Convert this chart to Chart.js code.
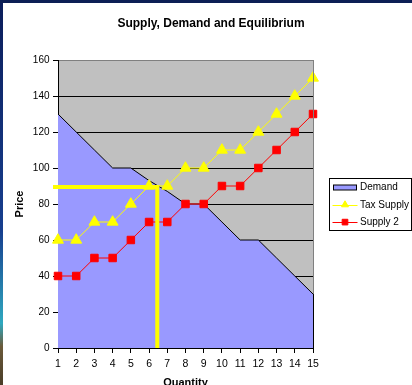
<!DOCTYPE html>
<html>
<head>
<meta charset="utf-8">
<script src="https://cdn.jsdelivr.net/npm/chart.js@4.4.0/dist/chart.umd.min.js"></script>
<style>
  html, body { margin: 0; padding: 0; overflow: hidden; background: #fff; }
  #wrap { position: relative; width: 412px; height: 385px; overflow: hidden; }
  #chart { position: absolute; left: 0; top: 0; }
  .edge-left { position: absolute; left: 0; top: 0; width: 3px; height: 385px;
    background: linear-gradient(#0b1d5a 0%, #173f8f 60%, #2fa8bf 84%, #6b5a3a 90%, #4a3d28 100%); }
  .edge-top { position: absolute; left: 0; top: 0; width: 412px; height: 3px; background: #0c1f55; }
</style>
</head>
<body>
<div id="wrap">
  <canvas id="chart" width="412" height="400"></canvas>
  <div class="edge-left"></div>
  <div class="edge-top"></div>
</div>
<script>
const quantities = ['1', '2', '3', '4', '5', '6', '7', '8', '9', '10', '11', '12', '13', '14', '15'];
const demand = [130, 120, 110, 100, 100, 93, 87, 80, 80, 70, 60, 60, 50, 40, 30];
const taxSupply = [60, 60, 70, 70, 80, 90, 90, 100, 100, 110, 110, 120, 130, 140, 150];
const supply2 = [40, 40, 50, 50, 60, 70, 70, 80, 80, 90, 90, 100, 110, 120, 130];
const priceMin = 0;
const priceMax = 160;
const priceStep = 20;
// the thick yellow guide lines (quantity on the category axis, price)
const equilibriumQuantity = 6.45;
const equilibriumPrice = 89.5;

const FONT = 'Liberation Sans, Arial, sans-serif';

// grey plot background like the old Excel chart
const plotBackground = {
  id: 'plotBackground',
  beforeDraw(chart) {
    const { ctx, chartArea } = chart;
    ctx.save();
    ctx.fillStyle = '#C0C0C0';
    ctx.fillRect(chartArea.left, chartArea.top, chartArea.right - chartArea.left, chartArea.bottom - chartArea.top);
    ctx.restore();
  }
};

const guideLines = {
  id: 'guideLines',
  afterDatasetsDraw(chart) {
    const { ctx, chartArea, scales: { x, y } } = chart;
    // right border of the plot, black where it edges the demand area
    const rx = Math.round(chartArea.right - 0.5) + 0.5;
    const yLast = y.getPixelForValue(demand[demand.length - 1]);
    ctx.save();
    ctx.lineWidth = 1;
    ctx.strokeStyle = '#808080';
    ctx.beginPath();
    ctx.moveTo(rx, chartArea.top);
    ctx.lineTo(rx, yLast);
    ctx.stroke();
    ctx.strokeStyle = '#000';
    ctx.beginPath();
    ctx.moveTo(rx, yLast);
    ctx.lineTo(rx, chartArea.bottom);
    ctx.stroke();

    const px = x.getPixelForValue(equilibriumQuantity - Number(quantities[0]));
    const py = y.getPixelForValue(equilibriumPrice);
    ctx.strokeStyle = '#FFFF00';
    ctx.lineWidth = 4;
    ctx.beginPath();
    ctx.moveTo(chartArea.left - 5, py);
    ctx.lineTo(px + 2, py);
    ctx.moveTo(px, py - 2);
    ctx.lineTo(px, chartArea.bottom);
    ctx.stroke();
    ctx.restore();
  }
};

// legend box drawn by hand to sit where Excel put it
const boxLegend = {
  id: 'boxLegend',
  afterDraw(chart) {
    const { ctx, chartArea } = chart;
    const w = 82, h = 52;
    const left = Math.round(chartArea.right + 16) + 0.5;
    const top = Math.round((chartArea.top + chartArea.bottom) / 2 - h / 2) + 0.5;
    ctx.save();
    ctx.fillStyle = '#fff';
    ctx.fillRect(left, top, w, h);
    ctx.strokeStyle = '#000';
    ctx.lineWidth = 1;
    ctx.strokeRect(left, top, w, h);
    ctx.font = '10px ' + FONT;
    ctx.textBaseline = 'middle';
    ctx.textAlign = 'left';
    chart.data.datasets.forEach((ds, i) => {
      const cy = top + 9 + i * 17.3;
      if (ds.fill) {
        ctx.fillStyle = ds.backgroundColor;
        ctx.fillRect(left + 4, cy - 2.5, 23, 5);
        ctx.strokeStyle = '#000';
        ctx.strokeRect(left + 4, cy - 2.5, 23, 5);
      } else {
        ctx.strokeStyle = ds.borderColor;
        ctx.lineWidth = 1;
        ctx.beginPath();
        ctx.moveTo(left + 3, Math.round(cy) + 0.5);
        ctx.lineTo(left + 28, Math.round(cy) + 0.5);
        ctx.stroke();
        ctx.fillStyle = ds.pointBackgroundColor;
        ctx.strokeStyle = ds.pointBorderColor;
        Chart.helpers.drawPoint(ctx, { pointStyle: ds.pointStyle, rotation: 0, radius: 4, borderWidth: 1 }, left + 15.5, cy);
      }
      ctx.fillStyle = '#000';
      ctx.fillText(ds.label, left + 30.5, cy);
    });
    ctx.restore();
  }
};

new Chart(document.getElementById('chart'), {
  type: 'line',
  data: {
    labels: quantities,
    datasets: [
      {
        label: 'Demand',
        data: demand,
        fill: 'origin',
        backgroundColor: '#9999FF',
        borderColor: '#000',
        borderWidth: 1,
        pointRadius: 0,
        tension: 0,
        order: 10
      },
      {
        label: 'Tax Supply',
        data: taxSupply,
        fill: false,
        borderColor: '#FFFF00',
        borderWidth: 1,
        pointStyle: 'triangle',
        pointRadius: 6.3,
        pointBackgroundColor: '#FFFF00',
        pointBorderColor: '#FFFF00',
        pointBorderWidth: 1,
        tension: 0,
        order: 2
      },
      {
        label: 'Supply 2',
        data: supply2,
        fill: false,
        borderColor: '#FF0000',
        borderWidth: 1,
        pointStyle: 'rect',
        pointRadius: 5.3,
        pointBackgroundColor: '#FF0000',
        pointBorderColor: '#FF0000',
        pointBorderWidth: 1,
        tension: 0,
        order: 1
      }
    ]
  },
  options: {
    responsive: false,
    animation: false,
    events: [],
    layout: { padding: { left: 10, right: 0, top: 0, bottom: 0 } },
    plugins: {
      legend: { display: false },
      tooltip: { enabled: false },
      title: {
        display: true,
        text: 'Supply, Demand and Equilibrium',
        color: '#000',
        font: { family: FONT, size: 12, weight: 'bold' },
        padding: { top: 16.8, bottom: 28.8 }
      }
    },
    scales: {
      x: {
        type: 'category',
        offset: false,
        grid: { offset: false, drawOnChartArea: false, drawTicks: true, tickLength: 5, tickColor: '#000' },
        border: { color: '#000', width: 1 },
        ticks: { color: '#000', font: { family: FONT, size: 10.5 }, padding: 5, maxRotation: 0, autoSkip: false },
        title: {
          display: true,
          text: 'Quantity',
          color: '#000',
          font: { family: FONT, size: 11, weight: 'bold' },
          padding: { top: 0, bottom: 10.4 }
        },
        afterFit: (s) => { s.height = 400 - 348; }
      },
      y: {
        min: priceMin,
        max: priceMax,
        ticks: { stepSize: priceStep, color: '#000', font: { family: FONT, size: 10 }, padding: 3.5 },
        grid: {
          color: (c) => (c.tick && c.tick.value === priceMax ? '#808080' : '#000'),
          tickColor: '#000',
          tickLength: 5
        },
        border: { color: '#000', width: 1 },
        title: {
          display: true,
          text: 'Price',
          color: '#000',
          font: { family: FONT, size: 11, weight: 'bold' },
          padding: { top: 3.4, bottom: 0 }
        },
        afterFit: (s) => { s.width = 48; }
      },
      // empty right-hand axis that reserves the room the legend sits in
      legendRoom: {
        type: 'linear',
        position: 'right',
        display: true,
        grid: { display: false, drawTicks: false },
        border: { display: false },
        ticks: { display: false },
        afterFit: (s) => { s.width = 99; }
      }
    }
  },
  plugins: [plotBackground, guideLines, boxLegend]
});
</script>
</body>
</html>
